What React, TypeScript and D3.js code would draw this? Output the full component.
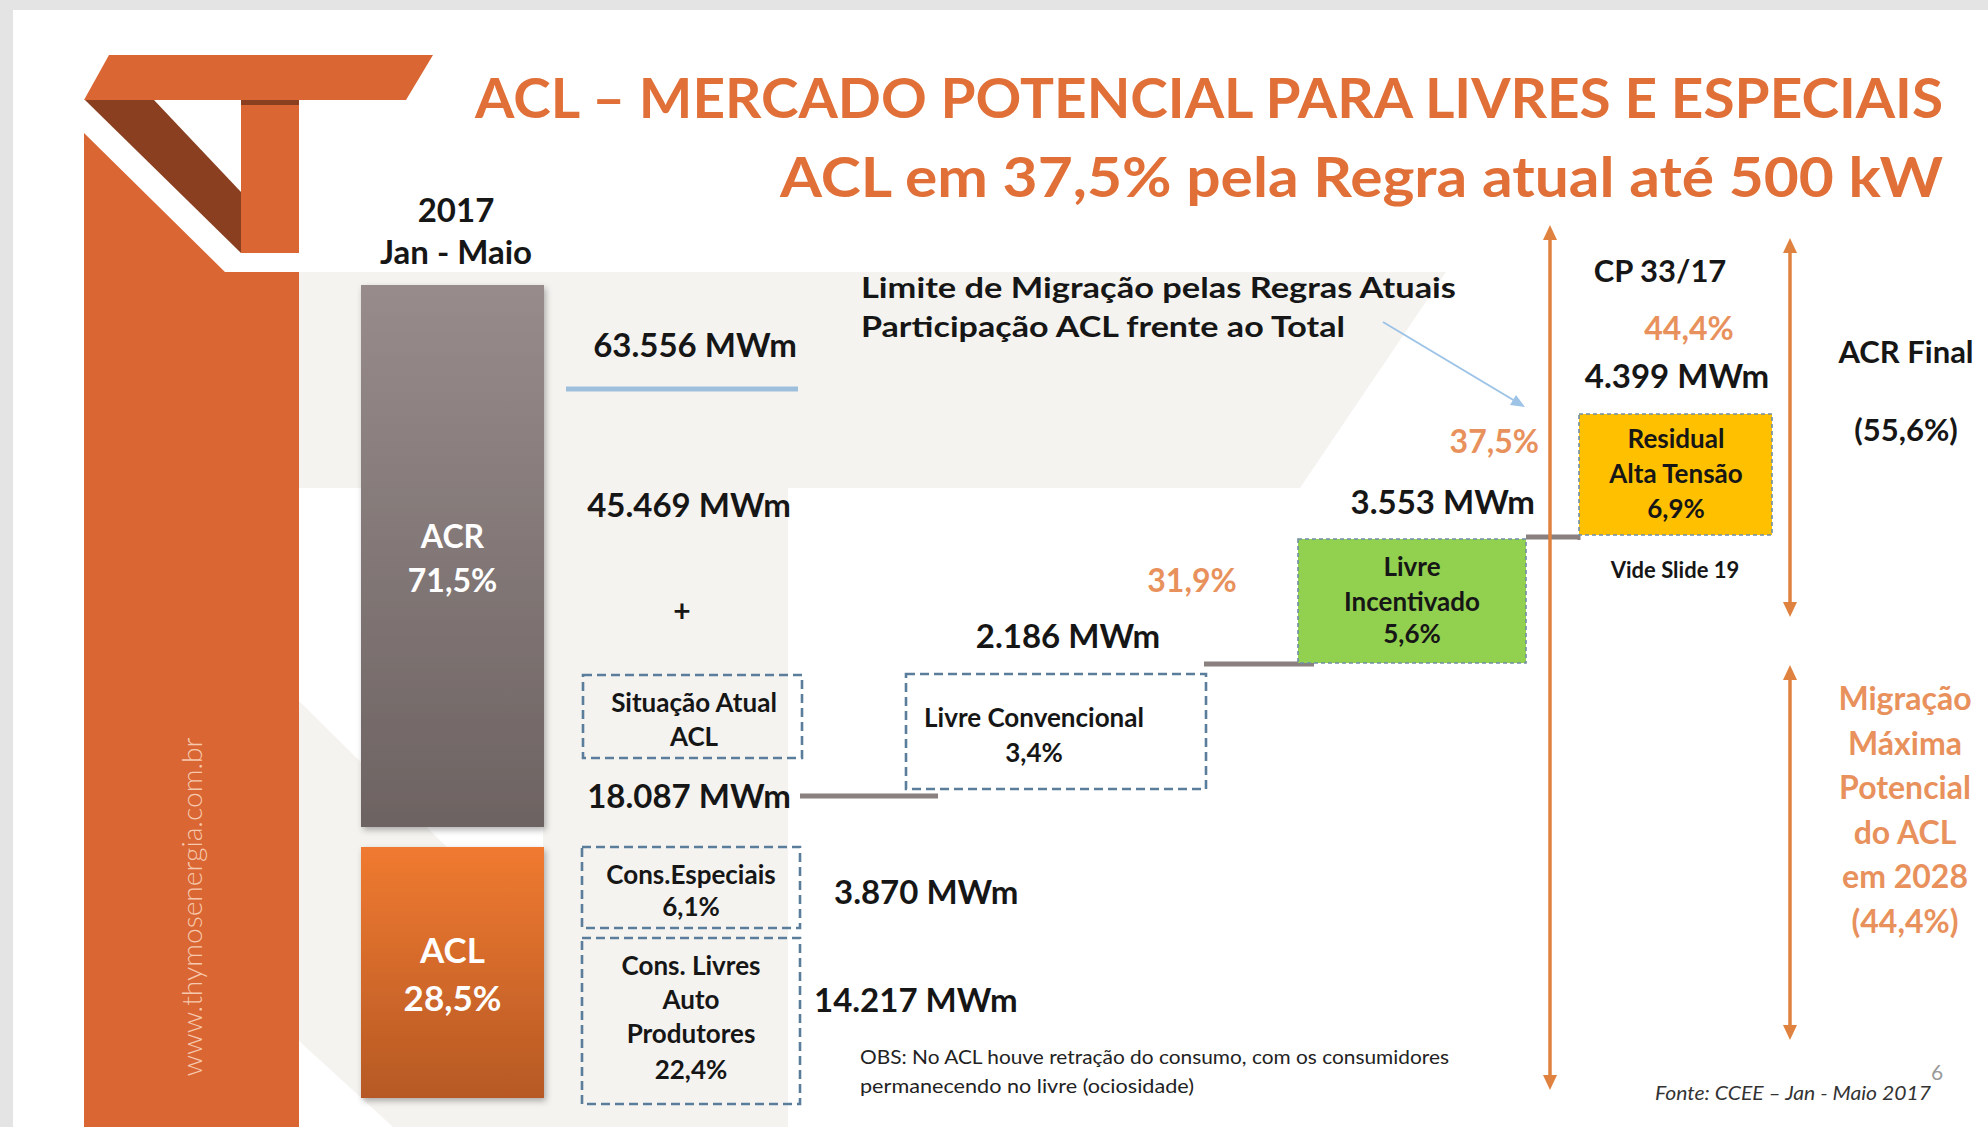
import React from "react";
import * as d3 from "d3";

// ---------- DATA ----------
const titleLines = [
  "ACL – MERCADO POTENCIAL PARA LIVRES E ESPECIAIS",
  "ACL em 37,5% pela Regra atual até 500 kW",
];
const periodLines = ["2017", "Jan - Maio"];
const marketNames = ["ACR", "ACL"];
const marketShares = ["71,5%", "28,5%"];
const totalLabels = ["63.556 MWm", "45.469 MWm"];
const stepNames = [
  ["Situação Atual", "ACL"],
  ["Livre Convencional", "3,4%"],
  ["Livre", "Incentivado", "5,6%"],
  ["Residual", "Alta Tensão", "6,9%"],
];
const stepMWm = ["18.087 MWm", "2.186 MWm", "3.553 MWm", "4.399 MWm"];
const stepCumShare = ["28,5%", "31,9%", "37,5%", "44,4%"];
const aclParts = [
  ["Cons.Especiais", "6,1%"],
  ["Cons. Livres", "Auto", "Produtores", "22,4%"],
];
const aclPartsMWm = ["3.870 MWm", "14.217 MWm"];
const limitLines = ["Limite de Migração pelas Regras Atuais", "Participação ACL frente ao Total"];
const cpLabel = "CP 33/17";
const acrFinalLines = ["ACR Final", "(55,6%)"];
const potentialLines = ["Migração", "Máxima", "Potencial", "do ACL", "em 2028", "(44,4%)"];
const noteLines = [
  "OBS: No ACL houve retração do consumo, com os consumidores",
  "permanecendo no livre (ociosidade)",
];
const residualNote = "Vide Slide 19";
const sourceLabel = "Fonte: CCEE – Jan - Maio 2017";
const pageNumber = "6";
const siteLabel = "www.thymosenergia.com.br";

// ---------- LAYOUT ----------
const W = 1988;
const H = 1127;
const FONT = "Lato, 'Open Sans', sans-serif";
const ORANGE = "#DA6633";
const BROWN = "#8A4020";
const TITLE_ORANGE = "#E06F38";
const SOFT_ORANGE = "#E8915C";
const ARROW_ORANGE = "#E0823F";
const DARK = "#161616";
const BG_GRAY = "#f4f3f0";

const stepIdx = stepNames.map((_, i) => i);
const levelY = d3.scaleOrdinal<number, number>().domain(stepIdx).range([796, 664, 537, 414]);
const stepBoxes = [
  { x0: 583, x1: 802, y0: 675, y1: 758, fill: "none", lines: [712, 746], cx: 694 },
  { x0: 906, x1: 1206, y0: 674, y1: 789, fill: "#ffffff", lines: [727, 762], cx: 1034 },
  { x0: 1298, x1: 1526, y0: 539, y1: 663, fill: "#92D050", lines: [576, 611, 643], cx: 1412 },
  { x0: 1579, x1: 1772, y0: 414, y1: 535, fill: "#FFC000", lines: [448, 483, 518], cx: 1676 },
];
const mwmPos = [
  { x: 689, y: 808, a: "middle" },
  { x: 1068, y: 648, a: "middle" },
  { x: 1535, y: 514, a: "end" },
  { x: 1677, y: 388, a: "middle" },
];
const cumPos = [null, { x: 1192, y: 592 }, { x: 1539, y: 453 }, { x: 1689, y: 340 }];
const connectors = [
  { x0: 800, x1: 938 },
  { x0: 1204, x1: 1314 },
  { x0: 1526, x1: 1580 },
];
const barScaleY = d3.scaleOrdinal<string, [number, number]>().domain(marketNames).range([[285, 827], [847, 1098]]);
const barX = d3.scaleBand().domain(["bar"]).range([361, 544]).padding(0);
const aclBoxes = [
  { x0: 582, x1: 800, y0: 847, y1: 928, lines: [884, 916] },
  { x0: 582, x1: 800, y0: 938, y1: 1104, lines: [975, 1009, 1043, 1079] },
];
const aclMwmPos = [{ x: 834, y: 904 }, { x: 814, y: 1012 }];

function head(x: number, y: number, dir: number) {
  const p = d3.path();
  p.moveTo(x, y);
  p.lineTo(x - 7, y + dir * 15);
  p.lineTo(x + 7, y + dir * 15);
  p.closePath();
  return p.toString();
}

function VArrow({ x, y0, y1, top = true, bottom = true }: any) {
  return (
    <g>
      <line x1={x} x2={x} y1={y0 + (top ? 10 : 0)} y2={y1 - (bottom ? 10 : 0)} stroke={ARROW_ORANGE} strokeWidth={3.5} />
      {top && <path d={head(x, y0, 1)} fill={ARROW_ORANGE} />}
      {bottom && <path d={head(x, y1, -1)} fill={ARROW_ORANGE} />}
    </g>
  );
}

function T({ x, y, s, w = 700, fill = DARK, a = "middle", len, it, children }: any) {
  return (
    <text
      x={x}
      y={y}
      fontSize={s}
      fontWeight={w}
      fill={fill}
      textAnchor={a}
      fontFamily={FONT}
      fontStyle={it ? "italic" : "normal"}
      textLength={len}
      lengthAdjust={len ? "spacingAndGlyphs" : undefined}
    >
      {children}
    </text>
  );
}

export default function App() {
  const lineGen = d3.line();
  return (
    <svg width={W} height={H} style={{ position: "absolute", left: 0, top: 0 }} xmlns="http://www.w3.org/2000/svg">
      <defs>
        <linearGradient id="gAcr" x1="0" y1="0" x2="0" y2="1">
          <stop offset="0" stopColor="#978c8b" />
          <stop offset="1" stopColor="#6d6362" />
        </linearGradient>
        <linearGradient id="gAcl" x1="0" y1="0" x2="0" y2="1">
          <stop offset="0" stopColor="#F07A30" />
          <stop offset="1" stopColor="#B65925" />
        </linearGradient>
        <filter id="sh" x="-10%" y="-10%" width="130%" height="130%">
          <feDropShadow dx="2" dy="3" stdDeviation="3" floodColor="#000" floodOpacity="0.3" />
        </filter>
      </defs>

      {/* frame */}
      <rect x={0} y={0} width={W} height={H} fill="#e4e4e4" />
      <rect x={13} y={10} width={W - 13} height={H - 10} fill="#ffffff" />

      {/* watermark background */}
      <path d={lineGen([[298, 272], [1446, 272], [1300, 488], [298, 488]])! + "Z"} fill={BG_GRAY} />
      <path d={lineGen([[543, 488], [788, 488], [788, H], [543, H]])! + "Z"} fill={BG_GRAY} />
      <path d={lineGen([[298, 700], [543, 942], [543, H], [393, H], [298, 1040]])! + "Z"} fill={BG_GRAY} />

      {/* logo */}
      <path d={lineGen([[109, 55], [433, 55], [406, 100], [84, 100]])! + "Z"} fill={ORANGE} />
      <path d={lineGen([[85, 100], [154, 100], [241, 192], [241, 253]])! + "Z"} fill={BROWN} />
      <rect x={241} y={100} width={58} height={153} fill={ORANGE} />
      <rect x={241} y={100} width={58} height={5} fill={BROWN} />
      <path d={lineGen([[84, 133], [225, 272], [299, 272], [299, H], [84, H]])! + "Z"} fill={ORANGE} />
      <text
        x={0}
        y={0}
        transform="translate(202,907) rotate(-90)"
        fontSize={27}
        fontWeight={300}
        fill="#f6c8ad"
        textAnchor="middle"
        fontFamily={FONT}
        textLength={339}
        lengthAdjust="spacingAndGlyphs"
      >
        {siteLabel}
      </text>

      {/* titles */}
      <T x={475} y={118} s={56} fill={TITLE_ORANGE} a="start" len={1468}>{titleLines[0]}</T>
      <T x={780} y={197} s={56} fill={TITLE_ORANGE} a="start" len={1163}>{titleLines[1]}</T>

      {/* period */}
      <T x={456} y={222} s={33}>{periodLines[0]}</T>
      <T x={456} y={264} s={33}>{periodLines[1]}</T>

      {/* market bars */}
      {marketNames.map((n, i) => {
        const [y0, y1] = barScaleY(n);
        const x0 = barX("bar")!;
        const bw = barX.bandwidth();
        const cy = (y0 + y1) / 2;
        return (
          <g key={n}>
            <rect x={x0} y={y0} width={bw} height={y1 - y0} fill={i === 0 ? "url(#gAcr)" : "url(#gAcl)"} filter="url(#sh)" />
            {i === 0 ? (
              <>
                <T x={x0 + bw / 2} y={548} s={32} fill="#fff">{n}</T>
                <T x={x0 + bw / 2} y={592} s={32} fill="#fff">{marketShares[i]}</T>
              </>
            ) : (
              <>
                <T x={x0 + bw / 2} y={cy - 10} s={35} fill="#fff">{n}</T>
                <T x={x0 + bw / 2} y={cy + 38} s={35} fill="#fff">{marketShares[i]}</T>
              </>
            )}
          </g>
        );
      })}

      {/* totals */}
      <T x={695} y={357} s={33}>{totalLabels[0]}</T>
      <line x1={566} x2={798} y1={389} y2={389} stroke="#9dbfdc" strokeWidth={5} />
      <T x={689} y={517} s={33}>{totalLabels[1]}</T>
      <T x={682} y={622} s={30}>+</T>

      {/* limit annotation */}
      <T x={861} y={298} s={28} a="start" len={595}>{limitLines[0]}</T>
      <T x={861} y={337} s={28} a="start" len={484}>{limitLines[1]}</T>
      <line x1={1383} y1={322} x2={1515} y2={401} stroke="#9dc3e6" strokeWidth={2} />
      <path d="M1525,407 L1510,405 L1516,395 Z" fill="#9dc3e6" />

      {/* connectors */}
      {connectors.map((c, i) => (
        <line key={i} x1={c.x0} x2={c.x1} y1={levelY(i)} y2={levelY(i)} stroke="#8a8080" strokeWidth={5} />
      ))}
      <line x1={1579} x2={1579} y1={535} y2={540} stroke="#8a8080" strokeWidth={3} />

      {/* step boxes */}
      {stepIdx.map((i) => {
        const b = stepBoxes[i];
        const solid = b.fill !== "none" && b.fill !== "#ffffff";
        return (
          <g key={i}>
            <rect
              x={b.x0}
              y={b.y0}
              width={b.x1 - b.x0}
              height={b.y1 - b.y0}
              fill={b.fill}
              stroke={solid ? "#6f8fa6" : "#5b7d9c"}
              strokeWidth={solid ? 1.6 : 2.6}
              strokeDasharray={solid ? "4 3" : "9 5"}
            />
            {stepNames[i].map((t, k) => (
              <T key={k} x={b.cx} y={b.lines[k]} s={26}>{t}</T>
            ))}
            <T x={mwmPos[i].x} y={mwmPos[i].y} s={33} a={mwmPos[i].a}>{stepMWm[i]}</T>
            {cumPos[i] && <T x={cumPos[i]!.x} y={cumPos[i]!.y} s={32} fill={SOFT_ORANGE} a={i === 2 ? "end" : "middle"}>{stepCumShare[i]}</T>}
          </g>
        );
      })}
      <T x={1675} y={578} s={22}>{residualNote}</T>

      {/* ACL breakdown */}
      {aclParts.map((lines, i) => {
        const b = aclBoxes[i];
        return (
          <g key={i}>
            <rect x={b.x0} y={b.y0} width={b.x1 - b.x0} height={b.y1 - b.y0} fill="none" stroke="#5b7d9c" strokeWidth={2.6} strokeDasharray="9 5" />
            {lines.map((t, k) => (
              <T key={k} x={(b.x0 + b.x1) / 2} y={b.lines[k]} s={26}>{t}</T>
            ))}
            <T x={aclMwmPos[i].x} y={aclMwmPos[i].y} s={33} a="start">{aclPartsMWm[i]}</T>
          </g>
        );
      })}

      {/* note */}
      <T x={860} y={1064} s={19} w={400} a="start" len={589} fill="#222">{noteLines[0]}</T>
      <T x={860} y={1093} s={19} w={400} a="start" len={334} fill="#222">{noteLines[1]}</T>

      {/* right side */}
      <T x={1660} y={282} s={31}>{cpLabel}</T>
      <T x={1906} y={363} s={31}>{acrFinalLines[0]}</T>
      <T x={1906} y={441} s={31}>{acrFinalLines[1]}</T>
      <VArrow x={1550} y0={225} y1={1090} />
      <VArrow x={1790} y0={238} y1={617} />
      <VArrow x={1790} y0={665} y1={1040} />
      {potentialLines.map((t, k) => (
        <T key={k} x={1905} y={710 + k * 44.5} s={32} fill={SOFT_ORANGE}>{t}</T>
      ))}

      <T x={1931} y={1100} s={20} w={400} a="end" it fill="#333" len={276}>{sourceLabel}</T>
      <T x={1937} y={1080} s={21} w={400} fill="#9a9a9a">{pageNumber}</T>
    </svg>
  );
}
